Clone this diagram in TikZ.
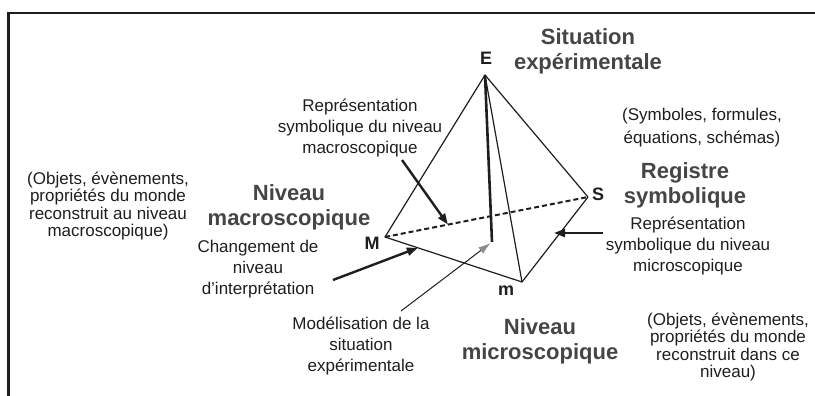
\documentclass[tikz,border=0pt]{standalone}
\usepackage{fontspec}
\setmainfont{Liberation Sans}
\usepackage{tikz}
\usetikzlibrary{arrows.meta,calc}
\definecolor{ink}{HTML}{1E1E1E}
\definecolor{muted}{HTML}{454545}
\definecolor{blob}{HTML}{8C8C8C}
\tikzset{
  lbl/.style={align=center, font=\fontsize{17}{21}\selectfont, text=ink, inner sep=0pt},
  lbltight/.style={lbl, font=\fontsize{17}{17.5}\selectfont},
  big/.style={align=center, font=\fontsize{22}{25}\selectfont\bfseries, text=muted, inner sep=0pt},
  vtx/.style={font=\fontsize{18}{18}\selectfont\bfseries, text=ink, inner sep=0pt},
  rib/.style={draw=ink, line width=1.2pt, line join=round},
  hid/.style={draw=ink, line width=2pt, dash pattern=on 5pt off 3pt},
  ar/.style={-{Triangle[length=11pt,width=8pt]}, line width=2.4pt, draw=ink},
  arthin/.style={-{Latex[length=12pt,width=8pt,color=blob]}, line width=1pt, draw=ink}
}

\begin{document}
\begin{tikzpicture}[x=1pt,y=-1pt]
  \useasboundingbox (0,0) rectangle (815,396);
  \draw[line width=2.5pt, draw=ink] (8.5,396) |- (815,13);

  % tetrahedron
  \coordinate (E) at (485,75);
  \coordinate (S) at (588,197);
  \coordinate (M) at (385,237);
  \coordinate (m) at (522,282);
  \coordinate (H) at (492,242);

  \draw[hid] (M) -- (S);
  \draw[rib] (M) -- (E) -- (S) -- (m) -- cycle;
  \draw[rib] (E) -- (m);
  \draw[line width=2.6pt, draw=ink] (E) -- (H);

  \node[vtx] (lE) at (486,58) {E};
  \node[vtx] (lS) at (598,194) {S};
  \node[vtx] (lM) at (372,243) {M};
  \node[vtx] (lm) at (506,291) {m};

  \node[big] (sitexp) at (588,51) {Situation\\expérimentale};
  \node[big] (regsym) at (685,185) {Registre\\symbolique};
  \node[big] (nivmacro) at (289,207) {Niveau\\macroscopique};
  \node[big] (nivmicro) at (540,341) {Niveau\\microscopique};

  \node[lbl] (repmacro) at (360,128) {Représentation\\symbolique du niveau\\macroscopique};
  \node[lbl] (symb) at (702,128) {(Symboles, formules,\\[2pt]équations, schémas)};
  \node[lbl] (repmicro) at (688,246) {Représentation\\symbolique du niveau\\microscopique};
  \node[lbl] (chgniv) at (258,269) {Changement de\\niveau\\d'interprétation};
  \node[lbl] (modsit) at (361,346) {Modélisation de la\\situation\\expérimentale};
  \node[lbltight] (objmacro) at (108,206) {(Objets, évènements,\\propriétés du monde\\reconstruit au niveau\\macroscopique)};
  \node[lbltight] (objmicro) at (728,347) {(Objets, évènements,\\propriétés du monde\\reconstruit dans ce\\niveau)};

  % pointers
  \coordinate (t1) at (402,160);
  \coordinate (t2) at (333,280);
  \coordinate (t3) at (603,233);
  \coordinate (t3e) at (554,233);
  \coordinate (t4) at (401,311);
  \draw[ar] (t1) -- ($(M)!0.31!(S)$);
  \draw[ar] (t2) -- ($(M)!0.24!(m)$);
  \draw[ar] (t3) -- (t3e);
  \draw[arthin, shorten >=2pt] (t4) -- (H);
\end{tikzpicture}
\end{document}
